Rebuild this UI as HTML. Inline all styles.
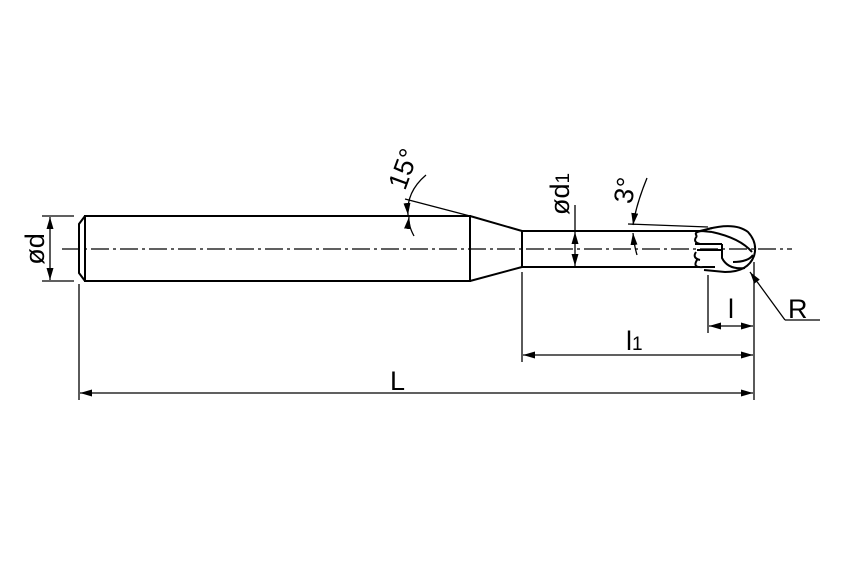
<!DOCTYPE html>
<html><head><style>body{margin:0;background:#fff}svg{display:block}</style></head>
<body>
<svg width="850" height="567" viewBox="0 0 850 567" xmlns="http://www.w3.org/2000/svg" font-family="Liberation Sans, sans-serif">
<defs>
<marker id="a" viewBox="0 0 12 7" refX="12" refY="3.5" markerWidth="12" markerHeight="7" markerUnits="userSpaceOnUse" orient="auto-start-reverse"><path d="M0,0L12,3.5L0,7z" fill="#000"/></marker>
</defs>
<g stroke="#000" fill="none" stroke-width="2">
<path d="M85,216 L470,216 L470,281 L85,281 Z"/>
<path d="M85,216 L79,224 L79,273 L85,281"/>
<path d="M470,216 L522,231 M470,281 L522,267"/>
<path d="M522,231 L700,231 M522,267 L700,267 M522,231 L522,267"/>
<path d="M708,229 Q735,222 748,232 Q758,243 754,256 Q748,272 725,272 L704,270" />
<path d="M700,231 L712,228"/>
<path d="M697,236 Q693,232 702,231 L712,232 M697,236 Q692,242 700,244 M695,244 L722,244 M697,250 L722,250 M696,252 Q692,258 700,260 M697,260 Q692,268 703,267 L715,267"/>
<path d="M722,244 L722,258 Q728,270 745,268 M712,232 Q740,238 752,252 M733,262 Q748,262 753,255"/>
</g>
<line x1="62" y1="249" x2="792" y2="249" stroke="#000" stroke-width="1.3" stroke-dasharray="18,4,3,4"/>
<g stroke="#000" stroke-width="1.3" fill="none">
<line x1="42" y1="216" x2="74" y2="216"/><line x1="42" y1="281" x2="74" y2="281"/>
<line x1="50" y1="217" x2="50" y2="280" marker-start="url(#a)" marker-end="url(#a)"/>
<line x1="575" y1="205" x2="575" y2="231"/>
<line x1="575" y1="232" x2="575" y2="266" marker-start="url(#a)" marker-end="url(#a)"/>
<line x1="405" y1="199" x2="470" y2="216"/>
<path d="M426,175 Q406,192 408,215" marker-end="url(#a)"/>
<path d="M414,236 Q408,225 409,217" marker-end="url(#a)"/>
<line x1="628" y1="224" x2="708" y2="227"/>
<path d="M647,178 Q636,205 633,225" marker-end="url(#a)"/>
<path d="M637,255 Q634,245 633,233" marker-end="url(#a)"/>
<line x1="79" y1="284" x2="79" y2="400"/>
<line x1="522" y1="272" x2="522" y2="362"/>
<line x1="754" y1="262" x2="754" y2="400"/>
<line x1="708" y1="275" x2="708" y2="333"/>
<line x1="80" y1="393" x2="753" y2="393" marker-start="url(#a)" marker-end="url(#a)"/>
<line x1="523" y1="355" x2="753" y2="355" marker-start="url(#a)" marker-end="url(#a)"/>
<line x1="709" y1="326" x2="753" y2="326" marker-start="url(#a)" marker-end="url(#a)"/>
<line x1="820" y1="320" x2="785" y2="320"/>
<line x1="785" y1="320" x2="750" y2="272" marker-end="url(#a)"/>
</g>
<g font-size="27" fill="#000">
<text x="390" y="390">L</text>
<text x="626" y="350">l<tspan font-size="19">1</tspan></text>
<text x="728" y="318">l</text>
<text x="788" y="318">R</text>
<text transform="translate(44,249) rotate(-90)" text-anchor="middle">ød</text>
<text transform="translate(569,194) rotate(-90)" text-anchor="middle">ød<tspan font-size="19">1</tspan></text>
<text transform="translate(412,172) rotate(-70)" text-anchor="middle">15°</text>
<text transform="translate(634,192) rotate(-80)" text-anchor="middle">3°</text>
</g>
</svg>
</body></html>
